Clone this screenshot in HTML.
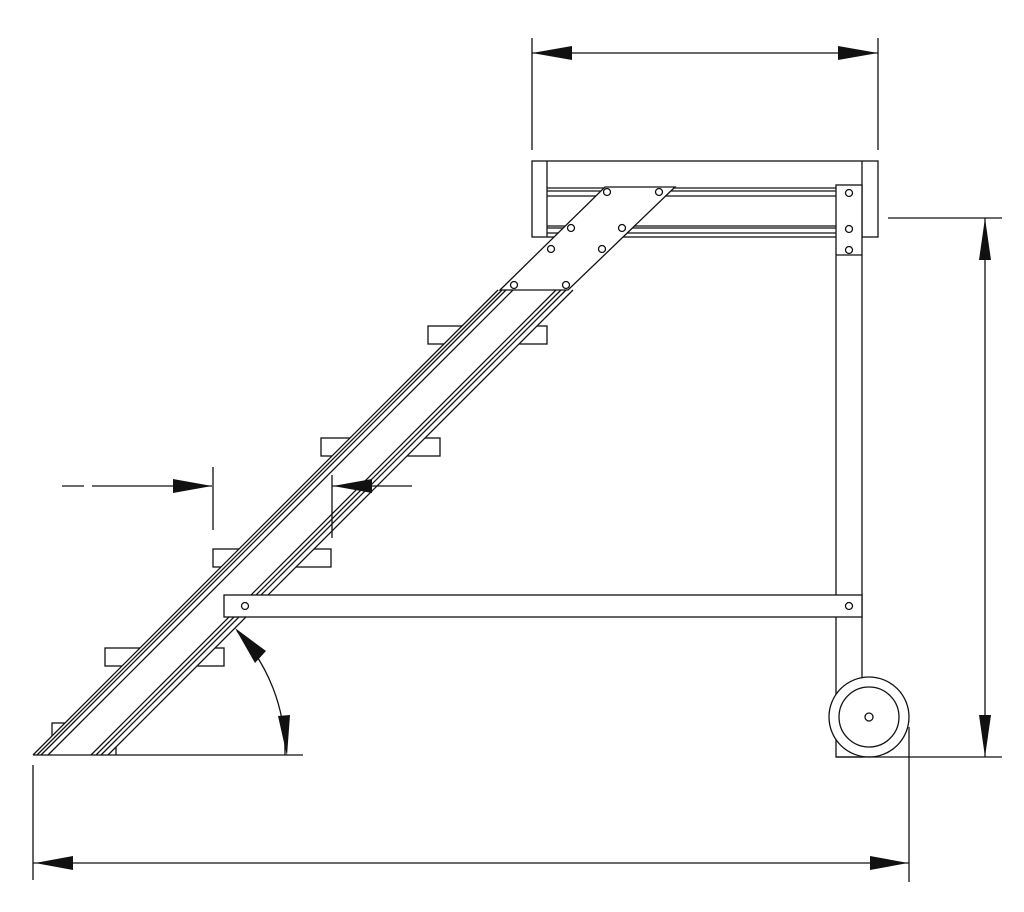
<!DOCTYPE html>
<html><head><style>html,body{margin:0;padding:0;background:#fff}svg{display:block}</style></head>
<body>
<svg width="1024" height="912" viewBox="0 0 1024 912" xmlns="http://www.w3.org/2000/svg">
<g stroke="#111" stroke-width="1.3" fill="none">
<!-- top platform -->
<rect x="532" y="161" width="346" height="76" fill="#fff"/>
<line x1="547" y1="161" x2="547" y2="237"/>
<line x1="862" y1="161" x2="862" y2="237"/>
<line x1="547" y1="188" x2="836" y2="188"/>
<line x1="547" y1="191" x2="836" y2="191"/>
<line x1="547" y1="196" x2="836" y2="196"/>
<line x1="547" y1="226" x2="836" y2="226"/>
<line x1="547" y1="228" x2="836" y2="228"/>
<line x1="547" y1="233" x2="836" y2="233"/>
<!-- post -->
<rect x="836" y="185" width="26" height="572" fill="#fff"/>
<line x1="836" y1="255" x2="862" y2="255"/>
<circle cx="849" cy="193" r="3.5"/><circle cx="849" cy="229" r="3.5"/><circle cx="849" cy="250" r="3.5"/>
<!-- steps -->
<rect x="428" y="326" width="119" height="18"/>
<rect x="321" y="438" width="119" height="18"/>
<rect x="213" y="549" width="118" height="18"/>
<rect x="105" y="648" width="119" height="18"/>
<rect x="52" y="723" width="64" height="18"/>
<line x1="116" y1="741" x2="116" y2="755"/>
<!-- white fill between rails -->
<polygon points="33,755 498,290 573,290 108,755" fill="#fff" stroke="none"/>
<!-- rails -->
<line x1="33" y1="755" x2="498" y2="290"/>
<line x1="37" y1="755" x2="502" y2="290"/>
<line x1="41" y1="755" x2="506" y2="290"/>
<line x1="48" y1="755" x2="513" y2="290"/>
<line x1="91" y1="755" x2="556" y2="290"/>
<line x1="96" y1="755" x2="561" y2="290"/>
<line x1="101" y1="755" x2="566" y2="290"/>
<line x1="108" y1="755" x2="573" y2="290"/>
<!-- horizontal brace (on top of rails) -->
<rect x="224" y="595" width="638" height="22" fill="#fff"/>
<circle cx="245" cy="606" r="3.5"/><circle cx="849" cy="606" r="3.5"/>
<!-- plate -->
<polygon points="605,187 675,187 568,290 500,290" fill="#fff"/>
<circle cx="607" cy="192" r="3.5"/><circle cx="659" cy="192" r="3.5"/>
<circle cx="571" cy="228" r="3.5"/><circle cx="622" cy="228" r="3.5"/>
<circle cx="551" cy="249" r="3.5"/><circle cx="602" cy="249" r="3.5"/>
<circle cx="514" cy="285" r="3.5"/><circle cx="566" cy="285" r="3.5"/>
<!-- ground line -->
<line x1="33" y1="755" x2="303" y2="755"/>
<!-- angle arc -->
<path d="M 237 631 A 177 177 0 0 1 285 755"/>
<!-- wheel -->
<circle cx="869" cy="717" r="40" fill="#fff"/>
<circle cx="869" cy="717" r="30"/>
<circle cx="869" cy="717" r="4"/>
<line x1="836" y1="757" x2="1002" y2="757"/>
<!-- left mid dimension -->
<line x1="62" y1="486" x2="84" y2="486"/>
<line x1="92" y1="486" x2="212" y2="486"/>
<line x1="213" y1="467" x2="213" y2="530"/>
<line x1="332" y1="475" x2="332" y2="538"/>
<line x1="332" y1="486" x2="412" y2="486"/>
<!-- right dimension -->
<line x1="888" y1="218" x2="1002" y2="218"/>
<line x1="985" y1="218" x2="985" y2="757"/>
<!-- top dimension -->
<line x1="532" y1="38" x2="532" y2="150"/>
<line x1="878" y1="38" x2="878" y2="150"/>
<line x1="532" y1="53" x2="878" y2="53"/>
<!-- bottom dimension -->
<line x1="33" y1="765" x2="33" y2="880"/>
<line x1="909" y1="727" x2="909" y2="882"/>
<line x1="33" y1="863" x2="909" y2="863"/>
</g>
<g fill="#111" stroke="none">
<polygon points="532,53 572,46 572,60"/>
<polygon points="878,53 838,46 838,60"/>
<polygon points="985,218 979,260 991,260"/>
<polygon points="985,757 979,715 991,715"/>
<polygon points="35,863 73,856 73,870"/>
<polygon points="908,863 870,856 870,870"/>
<polygon points="212,486 173,479 173,493"/>
<polygon points="333,486 372,479 372,493"/>
<polygon points="287,756 278,716 290,715"/>
<polygon points="235,628 266,651 255,663"/>
</g>
</svg>
</body></html>
